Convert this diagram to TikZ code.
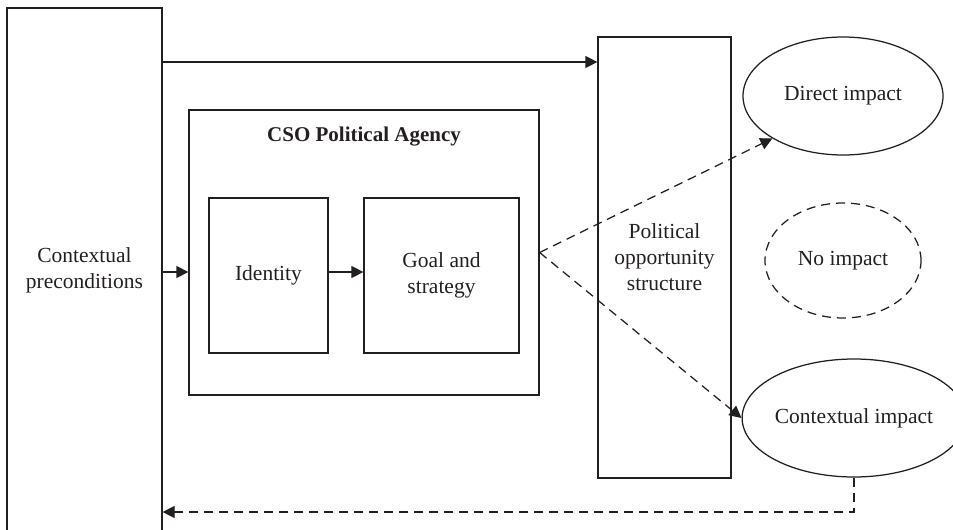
\documentclass[tikz,border=0pt]{standalone}
\usepackage{fontspec}
\setmainfont{Liberation Serif}
\usetikzlibrary{arrows.meta,shapes.geometric}
\definecolor{ink}{RGB}{35,31,32}
\begin{document}
\begin{tikzpicture}[x=1pt,y=-1pt,
  every node/.style={text=ink,font=\fontsize{21.5}{26}\selectfont,align=center},
  box/.style={draw=ink,line width=1.25pt,rectangle,inner sep=0pt},
  oval/.style={draw=ink,line width=1.25pt,ellipse,inner sep=0pt},
  link/.style={draw=ink,line width=1.25pt,-{Triangle[length=12pt,width=12pt]}},
  dlink/.style={link,dash pattern=on 9pt off 6pt}]
\useasboundingbox (0,0) rectangle (953,530);
\clip (0,0) rectangle (953,530);

% left column box runs past the lower edge
\node[box,minimum width=155,minimum height=524] (pre) at (84.5,270) {Contextual\\preconditions};

% agency frame with its two inner boxes
\node[box,minimum width=350,minimum height=285] (cso) at (364,252.5) {};
\node[font=\bfseries\fontsize{21}{26}\selectfont] (title) at (364,137) {CSO Political Agency};
\node[box,minimum width=119,minimum height=155] (ident) at (268.5,275.5) {Identity};
\node[box,minimum width=155,minimum height=155] (goal) at (441.5,275.5) {Goal and\\strategy};

% opportunity structure column
\node[box,minimum width=133,minimum height=441] (pos) at (664.5,257.5) {Political\\opportunity\\structure};

% outcomes
\node[oval,minimum width=200,minimum height=118] (direct) at (843,96) {Direct impact};
\node[oval,dash pattern=on 9pt off 6pt,minimum width=156,minimum height=115] (none) at (843,260.5) {No impact};
\node[oval,minimum width=194,minimum height=118] (ctx) at (854,418) {Contextual impact};

% levels for horizontal connectors
\coordinate (toplevel) at (0,62);
\coordinate (midlevel) at (0,272);
\coordinate (ret) at (0,512);

\draw[link] (pre.east |- toplevel) -- (pos.west |- toplevel);
\draw[link] (pre.east |- midlevel) -- (cso.west |- midlevel);
\draw[link] (ident.east |- midlevel) -- (goal.west |- midlevel);
\draw[dlink] (cso.east) -- (direct.211);
\draw[dlink] (cso.east) -- (ctx.west);
\draw[dlink] (ctx.south) -- (ctx.south |- ret) -- (pre.east |- ret);
\end{tikzpicture}
\end{document}
